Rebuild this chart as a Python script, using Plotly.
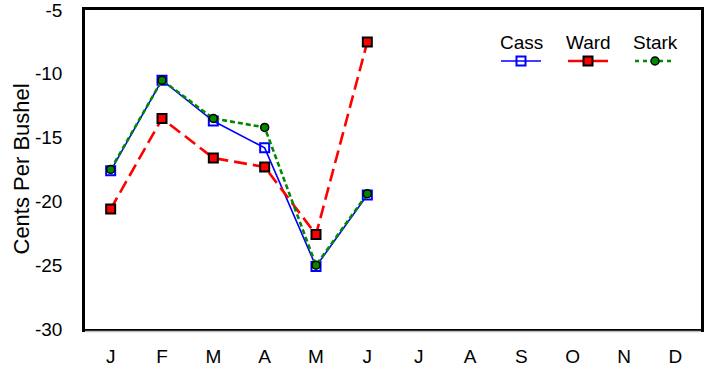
import plotly.graph_objects as go

months = ["J", "F", "M", "A", "M", "J", "J", "A", "S", "O", "N", "D"]
series_names = ["Cass", "Ward", "Stark"]
cass = [-17.6, -10.5, -13.7, -15.8, -25.1, -19.5]
ward = [-20.6, -13.5, -16.6, -17.3, -22.6, -7.5]
stark = [-17.5, -10.5, -13.5, -14.2, -25.0, -19.4]
y_ticks = [-30, -25, -20, -15, -10, -5]

FONT = "Arial, Liberation Sans, sans-serif"
W, H = 709, 368
L, R, T, B = 85, 8, 10, 39
pw, ph = W - L - R, H - T - B

styles = {
    "Cass": dict(line=dict(color="#0000ff", width=1.6),
                 marker=dict(symbol="square-open", size=9, color="#0000ff", line=dict(width=2, color="#0000ff"))),
    "Ward": dict(line=dict(color="#ff0000", width=2.6, dash="13px,6px"),
                 marker=dict(symbol="square", size=9, color="#ff0000", line=dict(width=2, color="black"))),
    "Stark": dict(line=dict(color="#008800", width=2.6, dash="5px,3px"),
                  marker=dict(symbol="circle", size=8, color="#008800", line=dict(width=1.5, color="black"))),
}

fig = go.Figure()
xs = list(range(len(cass)))
for name, vals in zip(series_names, [cass, ward, stark]):
    fig.add_trace(go.Scatter(x=xs, y=vals, mode="lines+markers", name=name,
                             showlegend=False, **styles[name]))

# manual legend (names above symbols), drawn on an overlay axis in pixel units
leg_cx = [521, 588, 655]
half = 20
for name, cx in zip(series_names, leg_cx):
    st = styles[name]
    fig.add_trace(go.Scatter(x=[cx - half, cx + half], y=[61, 61], mode="lines",
                             line=st["line"] | ({"dash": "4px,4px"} if name == "Stark" else {"dash": "solid"}),
                             xaxis="x2", yaxis="y2", showlegend=False, hoverinfo="skip"))
    fig.add_trace(go.Scatter(x=[cx], y=[61], mode="markers", marker=st["marker"],
                             xaxis="x2", yaxis="y2", showlegend=False, hoverinfo="skip"))
    fig.add_annotation(x=cx, y=42, xref="x2", yref="y2", text=name, showarrow=False,
                       font=dict(family=FONT, size=19, color="black"), xanchor="center", yanchor="middle")

fig.add_annotation(x=(21 - L) / pw, y=0.5, xref="paper", yref="paper", text="Cents Per Bushel",
                   textangle=-90, showarrow=False, xanchor="center", yanchor="middle",
                   font=dict(family=FONT, size=22, color="black"))

# faint shadow under the bottom axis
fig.add_shape(type="line", xref="paper", yref="paper", x0=0, x1=1, y0=-2.5 / ph, y1=-2.5 / ph,
              line=dict(color="#c0c0c0", width=1.5))

fig.update_layout(
    width=W, height=H, margin=dict(l=L, r=R, t=T, b=B, autoexpand=False),
    paper_bgcolor="white", plot_bgcolor="white",
    font=dict(family=FONT, size=19, color="black"),
    xaxis=dict(range=[-0.5, 11.5], tickmode="array", tickvals=list(range(12)), ticktext=months,
               showgrid=False, zeroline=False, showline=True, linecolor="black", linewidth=2.5,
               mirror=True, ticks="", ticklabelstandoff=8, tickfont=dict(size=19), automargin=False,
               ticklabeloverflow="allow"),
    yaxis=dict(range=[-30, -5], tickmode="array", tickvals=y_ticks, ticktext=[str(v) for v in y_ticks],
               showgrid=False, zeroline=False, showline=True, linecolor="black", linewidth=2.5,
               mirror=True, ticks="", ticklabelstandoff=16, tickfont=dict(size=19), automargin=False,
               ticklabeloverflow="allow"),
    xaxis2=dict(range=[L, W - R], overlaying="x", visible=False, fixedrange=True),
    yaxis2=dict(range=[H - B, T], overlaying="y", visible=False, fixedrange=True),
    showlegend=False,
)

fig.write_html("out.html", config={"displayModeBar": False},
               post_script="document.body.style.margin='0';document.body.style.padding='0';"
                           "document.body.style.overflow='hidden';")
